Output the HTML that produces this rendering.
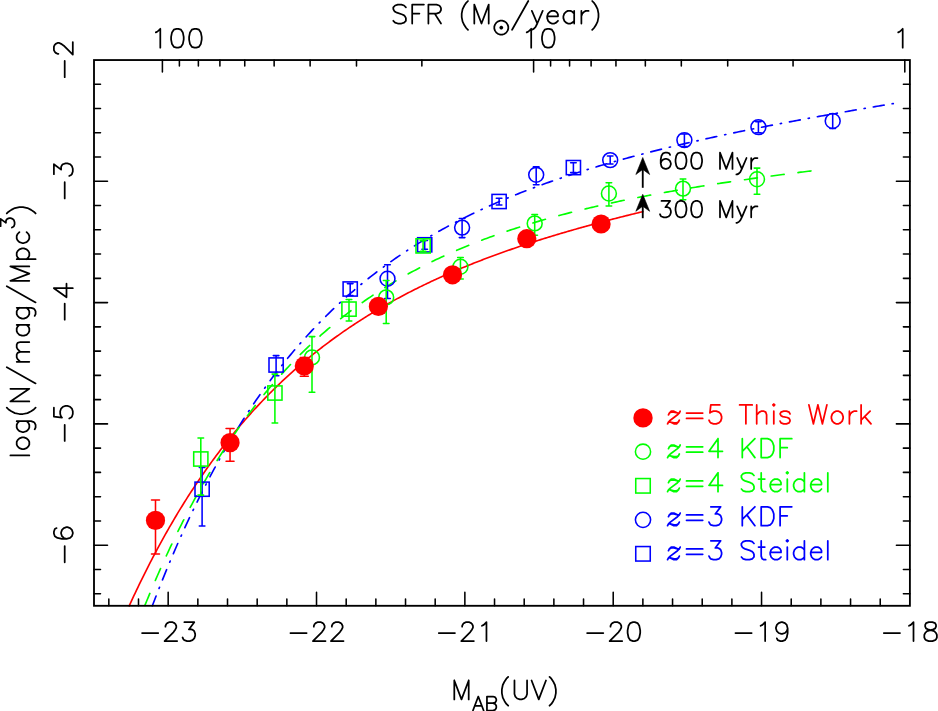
<!DOCTYPE html>
<html><head><meta charset="utf-8"><title>LF</title>
<style>html,body{margin:0;padding:0;background:#fff;font-family:"Liberation Sans",sans-serif;}svg{display:block}</style>
</head><body>
<svg width="938" height="711" viewBox="0 0 938 711" role="img" aria-label="Luminosity function of Lyman break galaxies">
<desc>SFR (M_sun/year) 100 10 1; log(N/mag/Mpc^3) -2 -3 -4 -5 -6; M_AB(UV) -23 -22 -21 -20 -19 -18; 600 Myr; 300 Myr; z=5 This Work; z=4 KDF; z=4 Steidel; z=3 KDF; z=3 Steidel</desc>
<rect x="0" y="0" width="938" height="711" fill="#fff"/>
<path d="M129.23 605.80 L129.68 604.83 L131.05 601.84 L132.42 598.89 L133.79 595.95 L135.17 593.04 L136.54 590.15 L137.91 587.28 L139.28 584.44 L140.65 581.62 L142.03 578.82 L143.40 576.04 L144.77 573.28 L146.14 570.55 L147.52 567.84 L148.89 565.14 L150.26 562.47 L151.63 559.82 L153.00 557.19 L154.38 554.58 L155.75 552.00 L157.12 549.43 L158.49 546.88 L159.87 544.35 L161.24 541.84 L162.61 539.35 L163.98 536.88 L165.35 534.43 L166.73 532.00 L168.10 529.58 L169.47 527.19 L170.84 524.81 L172.22 522.46 L173.59 520.12 L174.96 517.79 L176.33 515.49 L177.70 513.20 L179.08 510.94 L180.45 508.68 L181.82 506.45 L183.19 504.23 L184.56 502.03 L185.94 499.85 L187.31 497.68 L188.68 495.53 L190.05 493.40 L191.43 491.28 L192.80 489.18 L194.17 487.10 L195.54 485.03 L196.91 482.98 L198.29 480.94 L199.66 478.92 L201.03 476.91 L202.40 474.92 L203.78 472.94 L205.15 470.98 L206.52 469.03 L207.89 467.10 L209.26 465.18 L210.64 463.28 L212.01 461.39 L213.38 459.51 L214.75 457.65 L216.13 455.81 L217.50 453.97 L218.87 452.16 L220.24 450.35 L221.61 448.56 L222.99 446.78 L224.36 445.01 L225.73 443.26 L227.10 441.52 L228.48 439.80 L229.85 438.08 L231.22 436.38 L232.59 434.69 L233.96 433.02 L235.34 431.35 L236.71 429.70 L238.08 428.06 L239.45 426.44 L240.82 424.82 L242.20 423.22 L243.57 421.63 L244.94 420.05 L246.31 418.48 L247.69 416.93 L249.06 415.38 L250.43 413.85 L251.80 412.32 L253.17 410.81 L254.55 409.31 L255.92 407.82 L257.29 406.34 L258.66 404.88 L260.04 403.42 L261.41 401.97 L262.78 400.54 L264.15 399.11 L265.52 397.69 L266.90 396.29 L268.27 394.89 L269.64 393.51 L271.01 392.13 L272.39 390.77 L273.76 389.41 L275.13 388.06 L276.50 386.73 L277.87 385.40 L279.25 384.08 L280.62 382.77 L281.99 381.47 L283.36 380.18 L284.74 378.90 L286.11 377.63 L287.48 376.37 L288.85 375.11 L290.22 373.87 L291.60 372.63 L292.97 371.41 L294.34 370.19 L295.71 368.98 L297.08 367.77 L298.46 366.58 L299.83 365.39 L301.20 364.22 L302.57 363.05 L303.95 361.89 L305.32 360.73 L306.69 359.59 L308.06 358.45 L309.43 357.32 L310.81 356.20 L312.18 355.09 L313.55 353.98 L314.92 352.88 L316.30 351.79 L317.67 350.71 L319.04 349.63 L320.41 348.56 L321.78 347.50 L323.16 346.44 L324.53 345.40 L325.90 344.36 L327.27 343.32 L328.65 342.30 L330.02 341.28 L331.39 340.26 L332.76 339.26 L334.13 338.26 L335.51 337.26 L336.88 336.28 L338.25 335.30 L339.62 334.33 L341.00 333.36 L342.37 332.40 L343.74 331.44 L345.11 330.50 L346.48 329.56 L347.86 328.62 L349.23 327.69 L350.60 326.77 L351.97 325.85 L353.34 324.94 L354.72 324.03 L356.09 323.13 L357.46 322.24 L358.83 321.35 L360.21 320.47 L361.58 319.59 L362.95 318.72 L364.32 317.86 L365.69 317.00 L367.07 316.14 L368.44 315.29 L369.81 314.45 L371.18 313.61 L372.56 312.78 L373.93 311.95 L375.30 311.13 L376.67 310.31 L378.04 309.50 L379.42 308.69 L380.79 307.89 L382.16 307.09 L383.53 306.30 L384.91 305.51 L386.28 304.73 L387.65 303.95 L389.02 303.18 L390.39 302.41 L391.77 301.65 L393.14 300.89 L394.51 300.13 L395.88 299.38 L397.26 298.64 L398.63 297.90 L400.00 297.16 L401.37 296.43 L402.74 295.70 L404.12 294.98 L405.49 294.26 L406.86 293.55 L408.23 292.84 L409.60 292.13 L410.98 291.43 L412.35 290.73 L413.72 290.04 L415.09 289.35 L416.47 288.66 L417.84 287.98 L419.21 287.30 L420.58 286.63 L421.95 285.96 L423.33 285.29 L424.70 284.63 L426.07 283.97 L427.44 283.32 L428.82 282.67 L430.19 282.02 L431.56 281.37 L432.93 280.73 L434.30 280.10 L435.68 279.47 L437.05 278.84 L438.42 278.21 L439.79 277.59 L441.17 276.97 L442.54 276.35 L443.91 275.74 L445.28 275.13 L446.65 274.53 L448.03 273.93 L449.40 273.33 L450.77 272.73 L452.14 272.14 L453.52 271.55 L454.89 270.96 L456.26 270.38 L457.63 269.80 L459.00 269.23 L460.38 268.65 L461.75 268.08 L463.12 267.51 L464.49 266.95 L465.86 266.39 L467.24 265.83 L468.61 265.27 L469.98 264.72 L471.35 264.17 L472.73 263.63 L474.10 263.08 L475.47 262.54 L476.84 262.00 L478.21 261.47 L479.59 260.93 L480.96 260.40 L482.33 259.87 L483.70 259.35 L485.08 258.83 L486.45 258.31 L487.82 257.79 L489.19 257.27 L490.56 256.76 L491.94 256.25 L493.31 255.74 L494.68 255.24 L496.05 254.74 L497.43 254.24 L498.80 253.74 L500.17 253.25 L501.54 252.75 L502.91 252.26 L504.29 251.77 L505.66 251.29 L507.03 250.81 L508.40 250.32 L509.78 249.85 L511.15 249.37 L512.52 248.89 L513.89 248.42 L515.26 247.95 L516.64 247.48 L518.01 247.02 L519.38 246.55 L520.75 246.09 L522.12 245.63 L523.50 245.18 L524.87 244.72 L526.24 244.27 L527.61 243.82 L528.99 243.37 L530.36 242.92 L531.73 242.48 L533.10 242.03 L534.47 241.59 L535.85 241.15 L537.22 240.71 L538.59 240.28 L539.96 239.84 L541.34 239.41 L542.71 238.98 L544.08 238.55 L545.45 238.13 L546.82 237.70 L548.20 237.28 L549.57 236.86 L550.94 236.44 L552.31 236.02 L553.69 235.60 L555.06 235.19 L556.43 234.78 L557.80 234.37 L559.17 233.96 L560.55 233.55 L561.92 233.14 L563.29 232.74 L564.66 232.34 L566.04 231.94 L567.41 231.54 L568.78 231.14 L570.15 230.74 L571.52 230.35 L572.90 229.95 L574.27 229.56 L575.64 229.17 L577.01 228.78 L578.38 228.39 L579.76 228.01 L581.13 227.62 L582.50 227.24 L583.87 226.86 L585.25 226.48 L586.62 226.10 L587.99 225.72 L589.36 225.35 L590.73 224.97 L592.11 224.60 L593.48 224.23 L594.85 223.86 L596.22 223.49 L597.60 223.12 L598.97 222.75 L600.34 222.39 L601.71 222.02 L603.08 221.66 L604.46 221.30 L605.83 220.94 L607.20 220.58 L608.57 220.22 L609.95 219.86 L611.32 219.51 L612.69 219.15 L614.06 218.80 L615.43 218.45 L616.81 218.10 L618.18 217.75 L619.55 217.40 L620.92 217.05 L622.30 216.70 L623.67 216.36 L625.04 216.01 L626.41 215.67 L627.78 215.33 L629.16 214.99 L630.53 214.65 L631.90 214.31 L633.27 213.97 L634.65 213.63 L636.02 213.30 L637.39 212.96 L638.76 212.63 L640.13 212.30 L641.51 211.97 L642.88 211.63" fill="none" stroke="#ff0000" stroke-width="1.65" stroke-linecap="round" stroke-linejoin="round"/>
<path d="M152.33 605.80 L154.08 601.21 L156.08 596.01 L158.09 590.88 L160.09 585.80 L162.09 580.79 L164.09 575.83 L166.10 570.93 L168.10 566.09 L170.10 561.30 L172.10 556.57 L174.11 551.89 L176.11 547.27 L178.11 542.70 L180.11 538.19 L182.12 533.73 L184.12 529.31 L186.12 524.95 L188.13 520.64 L190.13 516.39 L192.13 512.17 L194.13 508.01 L196.14 503.90 L198.14 499.83 L200.14 495.81 L202.14 491.84 L204.15 487.91 L206.15 484.03 L208.15 480.19 L210.15 476.39 L212.16 472.64 L214.16 468.93 L216.16 465.27 L218.17 461.64 L220.17 458.06 L222.17 454.52 L224.17 451.02 L226.18 447.56 L228.18 444.13 L230.18 440.75 L232.18 437.40 L234.19 434.10 L236.19 430.83 L238.19 427.59 L240.19 424.40 L242.20 421.23 L244.20 418.11 L246.20 415.02 L248.21 411.96 L250.21 408.94 L252.21 405.96 L254.21 403.00 L256.22 400.08 L258.22 397.19 L260.22 394.34 L262.22 391.51 L264.23 388.72 L266.23 385.96 L268.23 383.23 L270.23 380.53 L272.24 377.85 L274.24 375.21 L276.24 372.60 L278.25 370.02 L280.25 367.46 L282.25 364.94 L284.25 362.44 L286.26 359.96 L288.26 357.52 L290.26 355.10 L292.26 352.71 L294.27 350.34 L296.27 348.00 L298.27 345.69 L300.27 343.40 L302.28 341.14 L304.28 338.90 L306.28 336.68 L308.29 334.49 L310.29 332.32 L312.29 330.18 L314.29 328.05 L316.30 325.96 L318.30 323.88 L320.30 321.82 L322.30 319.79 L324.31 317.78 L326.31 315.79 L328.31 313.82 L330.31 311.88 L332.32 309.95 L334.32 308.04 L336.32 306.15 L338.32 304.29 L340.33 302.44 L342.33 300.61 L344.33 298.80 L346.34 297.01 L348.34 295.24 L350.34 293.49 L352.34 291.76 L354.35 290.04 L356.35 288.34 L358.35 286.66 L360.35 284.99 L362.36 283.35 L364.36 281.72 L366.36 280.10 L368.36 278.51 L370.37 276.93 L372.37 275.36 L374.37 273.81 L376.38 272.28 L378.38 270.76 L380.38 269.26 L382.38 267.77 L384.39 266.30 L386.39 264.84 L388.39 263.40 L390.39 261.97 L392.40 260.55 L394.40 259.15 L396.40 257.77 L398.40 256.39 L400.41 255.03 L402.41 253.69 L404.41 252.35 L406.42 251.03 L408.42 249.73 L410.42 248.43 L412.42 247.15 L414.43 245.88 L416.43 244.62 L418.43 243.38 L420.43 242.14 L422.44 240.92 L424.44 239.71 L426.44 238.51 L428.44 237.32 L430.45 236.15 L432.45 234.98 L434.45 233.83 L436.46 232.68 L438.46 231.55 L440.46 230.43 L442.46 229.32 L444.47 228.22 L446.47 227.12 L448.47 226.04 L450.47 224.97 L452.48 223.91 L454.48 222.86 L456.48 221.81 L458.48 220.78 L460.49 219.76 L462.49 218.74 L464.49 217.74 L466.50 216.74 L468.50 215.75 L470.50 214.77 L472.50 213.80 L474.51 212.84 L476.51 211.88 L478.51 210.94 L480.51 210.00 L482.52 209.07 L484.52 208.15 L486.52 207.24 L488.52 206.33 L490.53 205.43 L492.53 204.54 L494.53 203.66 L496.54 202.79 L498.54 201.92 L500.54 201.06 L502.54 200.20 L504.55 199.36 L506.55 198.52 L508.55 197.69 L510.55 196.86 L512.56 196.04 L514.56 195.23 L516.56 194.42 L518.56 193.62 L520.57 192.83 L522.57 192.04 L524.57 191.26 L526.58 190.49 L528.58 189.72 L530.58 188.96 L532.58 188.20 L534.59 187.45 L536.59 186.71 L538.59 185.97 L540.59 185.24 L542.60 184.51 L544.60 183.79 L546.60 183.07 L548.60 182.36 L550.61 181.65 L552.61 180.95 L554.61 180.26 L556.62 179.57 L558.62 178.88 L560.62 178.20 L562.62 177.53 L564.63 176.86 L566.63 176.19 L568.63 175.53 L570.63 174.87 L572.64 174.22 L574.64 173.57 L576.64 172.93 L578.64 172.29 L580.65 171.66 L582.65 171.03 L584.65 170.41 L586.66 169.78 L588.66 169.17 L590.66 168.56 L592.66 167.95 L594.67 167.34 L596.67 166.74 L598.67 166.15 L600.67 165.55 L602.68 164.96 L604.68 164.38 L606.68 163.80 L608.68 163.22 L610.69 162.65 L612.69 162.08 L614.69 161.51 L616.70 160.95 L618.70 160.39 L620.70 159.83 L622.70 159.28 L624.71 158.73 L626.71 158.18 L628.71 157.64 L630.71 157.10 L632.72 156.56 L634.72 156.03 L636.72 155.50 L638.72 154.97 L640.73 154.45 L642.73 153.93 L644.73 153.41 L646.74 152.89 L648.74 152.38 L650.74 151.87 L652.74 151.37 L654.75 150.86 L656.75 150.36 L658.75 149.86 L660.75 149.37 L662.76 148.87 L664.76 148.38 L666.76 147.90 L668.76 147.41 L670.77 146.93 L672.77 146.45 L674.77 145.97 L676.78 145.49 L678.78 145.02 L680.78 144.55 L682.78 144.08 L684.79 143.62 L686.79 143.15 L688.79 142.69 L690.79 142.23 L692.80 141.77 L694.80 141.32 L696.80 140.87 L698.80 140.42 L700.81 139.97 L702.81 139.52 L704.81 139.08 L706.82 138.63 L708.82 138.19 L710.82 137.75 L712.82 137.32 L714.83 136.88 L716.83 136.45 L718.83 136.02 L720.83 135.59 L722.84 135.16 L724.84 134.74 L726.84 134.31 L728.84 133.89 L730.85 133.47 L732.85 133.05 L734.85 132.64 L736.86 132.22 L738.86 131.81 L740.86 131.40 L742.86 130.99 L744.87 130.58 L746.87 130.17 L748.87 129.76 L750.87 129.36 L752.88 128.96 L754.88 128.56 L756.88 128.16 L758.88 127.76 L760.89 127.36 L762.89 126.97 L764.89 126.57 L766.89 126.18 L768.90 125.79 L770.90 125.40 L772.90 125.01 L774.91 124.63 L776.91 124.24 L778.91 123.86 L780.91 123.47 L782.92 123.09 L784.92 122.71 L786.92 122.33 L788.92 121.95 L790.93 121.58 L792.93 121.20 L794.93 120.82 L796.93 120.45 L798.94 120.08 L800.94 119.71 L802.94 119.34 L804.95 118.97 L806.95 118.60 L808.95 118.23 L810.95 117.87 L812.96 117.50 L814.96 117.14 L816.96 116.78 L818.96 116.41 L820.97 116.05 L822.97 115.69 L824.97 115.33 L826.97 114.98 L828.98 114.62 L830.98 114.26 L832.98 113.91 L834.99 113.55 L836.99 113.20 L838.99 112.85 L840.99 112.50 L843.00 112.15 L845.00 111.80 L847.00 111.45 L849.00 111.10 L851.01 110.75 L853.01 110.41 L855.01 110.06 L857.01 109.72 L859.02 109.37 L861.02 109.03 L863.02 108.69 L865.03 108.34 L867.03 108.00 L869.03 107.66 L871.03 107.32 L873.04 106.98 L875.04 106.65 L877.04 106.31 L879.04 105.97 L881.05 105.63 L883.05 105.30 L885.05 104.96 L887.05 104.63 L889.06 104.30 L891.06 103.96 L893.06 103.63 L895.07 103.30" fill="none" stroke="#0000ff" stroke-width="1.65" stroke-linecap="round" stroke-linejoin="round" stroke-dasharray="11.000 8.089 1.200 8.089" stroke-dashoffset="0.50"/>
<path d="M144.74 605.80 L144.88 605.46 L146.70 600.99 L148.52 596.58 L150.33 592.21 L152.15 587.89 L153.97 583.62 L155.79 579.39 L157.60 575.21 L159.42 571.08 L161.24 566.98 L163.05 562.94 L164.87 558.93 L166.69 554.97 L168.51 551.06 L170.32 547.18 L172.14 543.35 L173.96 539.56 L175.78 535.80 L177.59 532.09 L179.41 528.42 L181.23 524.79 L183.04 521.20 L184.86 517.64 L186.68 514.13 L188.50 510.65 L190.31 507.21 L192.13 503.80 L193.95 500.44 L195.76 497.10 L197.58 493.81 L199.40 490.55 L201.22 487.32 L203.03 484.13 L204.85 480.97 L206.67 477.85 L208.49 474.76 L210.30 471.70 L212.12 468.68 L213.94 465.68 L215.75 462.72 L217.57 459.79 L219.39 456.90 L221.21 454.03 L223.02 451.19 L224.84 448.39 L226.66 445.61 L228.48 442.86 L230.29 440.14 L232.11 437.45 L233.93 434.79 L235.74 432.16 L237.56 429.55 L239.38 426.97 L241.20 424.42 L243.01 421.90 L244.83 419.40 L246.65 416.93 L248.46 414.49 L250.28 412.07 L252.10 409.67 L253.92 407.30 L255.73 404.96 L257.55 402.64 L259.37 400.35 L261.19 398.07 L263.00 395.83 L264.82 393.60 L266.64 391.40 L268.45 389.23 L270.27 387.07 L272.09 384.94 L273.91 382.83 L275.72 380.74 L277.54 378.67 L279.36 376.63 L281.17 374.60 L282.99 372.60 L284.81 370.62 L286.63 368.66 L288.44 366.71 L290.26 364.79 L292.08 362.89 L293.90 361.01 L295.71 359.15 L297.53 357.30 L299.35 355.48 L301.16 353.67 L302.98 351.89 L304.80 350.12 L306.62 348.37 L308.43 346.63 L310.25 344.92 L312.07 343.22 L313.89 341.54 L315.70 339.88 L317.52 338.23 L319.34 336.60 L321.15 334.99 L322.97 333.39 L324.79 331.81 L326.61 330.25 L328.42 328.70 L330.24 327.16 L332.06 325.65 L333.87 324.14 L335.69 322.66 L337.51 321.18 L339.33 319.73 L341.14 318.28 L342.96 316.86 L344.78 315.44 L346.60 314.04 L348.41 312.66 L350.23 311.28 L352.05 309.92 L353.86 308.58 L355.68 307.25 L357.50 305.93 L359.32 304.62 L361.13 303.33 L362.95 302.05 L364.77 300.78 L366.58 299.53 L368.40 298.29 L370.22 297.06 L372.04 295.84 L373.85 294.63 L375.67 293.44 L377.49 292.26 L379.31 291.09 L381.12 289.93 L382.94 288.78 L384.76 287.64 L386.57 286.51 L388.39 285.40 L390.21 284.29 L392.03 283.20 L393.84 282.12 L395.66 281.04 L397.48 279.98 L399.29 278.93 L401.11 277.89 L402.93 276.85 L404.75 275.83 L406.56 274.82 L408.38 273.82 L410.20 272.82 L412.02 271.84 L413.83 270.86 L415.65 269.90 L417.47 268.94 L419.28 267.99 L421.10 267.05 L422.92 266.13 L424.74 265.20 L426.55 264.29 L428.37 263.39 L430.19 262.49 L432.01 261.60 L433.82 260.72 L435.64 259.85 L437.46 258.99 L439.27 258.14 L441.09 257.29 L442.91 256.45 L444.73 255.62 L446.54 254.79 L448.36 253.98 L450.18 253.17 L451.99 252.37 L453.81 251.57 L455.63 250.78 L457.45 250.00 L459.26 249.23 L461.08 248.46 L462.90 247.70 L464.72 246.95 L466.53 246.21 L468.35 245.47 L470.17 244.73 L471.98 244.01 L473.80 243.29 L475.62 242.57 L477.44 241.87 L479.25 241.17 L481.07 240.47 L482.89 239.78 L484.70 239.10 L486.52 238.42 L488.34 237.75 L490.16 237.09 L491.97 236.43 L493.79 235.77 L495.61 235.12 L497.43 234.48 L499.24 233.84 L501.06 233.21 L502.88 232.59 L504.69 231.96 L506.51 231.35 L508.33 230.74 L510.15 230.13 L511.96 229.53 L513.78 228.94 L515.60 228.35 L517.42 227.76 L519.23 227.18 L521.05 226.60 L522.87 226.03 L524.68 225.46 L526.50 224.90 L528.32 224.34 L530.14 223.79 L531.95 223.24 L533.77 222.70 L535.59 222.16 L537.40 221.62 L539.22 221.09 L541.04 220.57 L542.86 220.04 L544.67 219.52 L546.49 219.01 L548.31 218.50 L550.13 217.99 L551.94 217.49 L553.76 216.99 L555.58 216.50 L557.39 216.01 L559.21 215.52 L561.03 215.04 L562.85 214.56 L564.66 214.08 L566.48 213.61 L568.30 213.14 L570.11 212.67 L571.93 212.21 L573.75 211.75 L575.57 211.30 L577.38 210.85 L579.20 210.40 L581.02 209.95 L582.84 209.51 L584.65 209.07 L586.47 208.64 L588.29 208.20 L590.10 207.77 L591.92 207.35 L593.74 206.93 L595.56 206.51 L597.37 206.09 L599.19 205.67 L601.01 205.26 L602.82 204.86 L604.64 204.45 L606.46 204.05 L608.28 203.65 L610.09 203.25 L611.91 202.86 L613.73 202.46 L615.55 202.08 L617.36 201.69 L619.18 201.31 L621.00 200.92 L622.81 200.55 L624.63 200.17 L626.45 199.80 L628.27 199.42 L630.08 199.06 L631.90 198.69 L633.72 198.33 L635.54 197.96 L637.35 197.60 L639.17 197.25 L640.99 196.89 L642.80 196.54 L644.62 196.19 L646.44 195.84 L648.26 195.50 L650.07 195.15 L651.89 194.81 L653.71 194.47 L655.52 194.13 L657.34 193.80 L659.16 193.46 L660.98 193.13 L662.79 192.80 L664.61 192.48 L666.43 192.15 L668.25 191.83 L670.06 191.51 L671.88 191.19 L673.70 190.87 L675.51 190.55 L677.33 190.24 L679.15 189.92 L680.97 189.61 L682.78 189.31 L684.60 189.00 L686.42 188.69 L688.23 188.39 L690.05 188.09 L691.87 187.79 L693.69 187.49 L695.50 187.19 L697.32 186.89 L699.14 186.60 L700.96 186.31 L702.77 186.02 L704.59 185.73 L706.41 185.44 L708.22 185.15 L710.04 184.87 L711.86 184.58 L713.68 184.30 L715.49 184.02 L717.31 183.74 L719.13 183.47 L720.94 183.19 L722.76 182.91 L724.58 182.64 L726.40 182.37 L728.21 182.10 L730.03 181.83 L731.85 181.56 L733.67 181.29 L735.48 181.03 L737.30 180.76 L739.12 180.50 L740.93 180.24 L742.75 179.97 L744.57 179.71 L746.39 179.46 L748.20 179.20 L750.02 178.94 L751.84 178.69 L753.66 178.43 L755.47 178.18 L757.29 177.93 L759.11 177.68 L760.92 177.43 L762.74 177.18 L764.56 176.93 L766.38 176.69 L768.19 176.44 L770.01 176.20 L771.83 175.95 L773.64 175.71 L775.46 175.47 L777.28 175.23 L779.10 174.99 L780.91 174.75 L782.73 174.51 L784.55 174.28 L786.37 174.04 L788.18 173.81 L790.00 173.57 L791.82 173.34 L793.63 173.11 L795.45 172.88 L797.27 172.65 L799.09 172.42 L800.90 172.19 L802.72 171.96 L804.54 171.73 L806.35 171.51 L808.17 171.28 L809.99 171.06 L811.81 170.83 L813.62 170.61 L815.44 170.39 L817.26 170.17 L819.08 169.94 L820.89 169.72" fill="none" stroke="#00ff00" stroke-width="1.65" stroke-linecap="round" stroke-linejoin="round" stroke-dasharray="13.000 14.013" stroke-dashoffset="-0.40"/>
<rect x="195.00" y="482.10" width="14.20" height="14.20" fill="none" stroke="#0000ff" stroke-width="1.55" stroke-linejoin="miter"/>
<path d="M202.10 467.50 L202.10 526.00 M199.30 467.50 L204.90 467.50 M199.30 526.00 L204.90 526.00" fill="none" stroke="#0000ff" stroke-width="1.55" stroke-linecap="round"/>
<rect x="269.00" y="357.90" width="14.20" height="14.20" fill="none" stroke="#0000ff" stroke-width="1.55" stroke-linejoin="miter"/>
<path d="M276.10 355.60 L276.10 375.70 M273.30 355.60 L278.90 355.60 M273.30 375.70 L278.90 375.70" fill="none" stroke="#0000ff" stroke-width="1.55" stroke-linecap="round"/>
<rect x="343.10" y="281.90" width="14.20" height="14.20" fill="none" stroke="#0000ff" stroke-width="1.55" stroke-linejoin="miter"/>
<path d="M350.20 283.60 L350.20 295.40 M347.40 283.60 L353.00 283.60 M347.40 295.40 L353.00 295.40" fill="none" stroke="#0000ff" stroke-width="1.55" stroke-linecap="round"/>
<rect x="417.60" y="237.70" width="14.20" height="14.20" fill="none" stroke="#0000ff" stroke-width="1.55" stroke-linejoin="miter"/>
<path d="M424.70 240.40 L424.70 249.20 M421.90 240.40 L427.50 240.40 M421.90 249.20 L427.50 249.20" fill="none" stroke="#0000ff" stroke-width="1.55" stroke-linecap="round"/>
<rect x="492.00" y="194.40" width="14.20" height="14.20" fill="none" stroke="#0000ff" stroke-width="1.55" stroke-linejoin="miter"/>
<path d="M499.10 198.30 L499.10 205.00 M496.30 198.30 L501.90 198.30 M496.30 205.00 L501.90 205.00" fill="none" stroke="#0000ff" stroke-width="1.55" stroke-linecap="round"/>
<rect x="566.30" y="160.50" width="14.20" height="14.20" fill="none" stroke="#0000ff" stroke-width="1.55" stroke-linejoin="miter"/>
<path d="M573.40 162.80 L573.40 172.60 M570.60 162.80 L576.20 162.80 M570.60 172.60 L576.20 172.60" fill="none" stroke="#0000ff" stroke-width="1.55" stroke-linecap="round"/>
<circle cx="387.50" cy="278.80" r="7.45" fill="none" stroke="#0000ff" stroke-width="1.55"/>
<path d="M387.50 264.80 L387.50 298.40 M384.70 264.80 L390.30 264.80 M384.70 298.40 L390.30 298.40" fill="none" stroke="#0000ff" stroke-width="1.55" stroke-linecap="round"/>
<circle cx="462.10" cy="227.60" r="7.45" fill="none" stroke="#0000ff" stroke-width="1.55"/>
<path d="M462.10 218.40 L462.10 237.60 M459.30 218.40 L464.90 218.40 M459.30 237.60 L464.90 237.60" fill="none" stroke="#0000ff" stroke-width="1.55" stroke-linecap="round"/>
<circle cx="536.20" cy="174.80" r="7.45" fill="none" stroke="#0000ff" stroke-width="1.55"/>
<path d="M536.20 166.80 L536.20 184.70 M533.40 166.80 L539.00 166.80 M533.40 184.70 L539.00 184.70" fill="none" stroke="#0000ff" stroke-width="1.55" stroke-linecap="round"/>
<circle cx="610.20" cy="160.10" r="7.45" fill="none" stroke="#0000ff" stroke-width="1.55"/>
<path d="M610.20 156.00 L610.20 164.00 M607.40 156.00 L613.00 156.00 M607.40 164.00 L613.00 164.00" fill="none" stroke="#0000ff" stroke-width="1.55" stroke-linecap="round"/>
<circle cx="684.40" cy="140.10" r="7.45" fill="none" stroke="#0000ff" stroke-width="1.55"/>
<path d="M684.40 134.00 L684.40 146.50 M681.60 134.00 L687.20 134.00 M681.60 146.50 L687.20 146.50" fill="none" stroke="#0000ff" stroke-width="1.55" stroke-linecap="round"/>
<circle cx="758.40" cy="127.10" r="7.45" fill="none" stroke="#0000ff" stroke-width="1.55"/>
<path d="M758.40 121.60 L758.40 132.70 M755.60 121.60 L761.20 121.60 M755.60 132.70 L761.20 132.70" fill="none" stroke="#0000ff" stroke-width="1.55" stroke-linecap="round"/>
<circle cx="832.70" cy="121.00" r="7.45" fill="none" stroke="#0000ff" stroke-width="1.55"/>
<path d="M832.70 113.80 L832.70 128.50 M829.90 113.80 L835.50 113.80 M829.90 128.50 L835.50 128.50" fill="none" stroke="#0000ff" stroke-width="1.55" stroke-linecap="round"/>
<rect x="193.70" y="451.90" width="14.20" height="14.20" fill="none" stroke="#00ff00" stroke-width="1.55" stroke-linejoin="miter"/>
<path d="M200.80 437.90 L200.80 495.10 M198.00 437.90 L203.60 437.90 M198.00 495.10 L203.60 495.10" fill="none" stroke="#00ff00" stroke-width="1.55" stroke-linecap="round"/>
<rect x="267.80" y="385.90" width="14.20" height="14.20" fill="none" stroke="#00ff00" stroke-width="1.55" stroke-linejoin="miter"/>
<path d="M274.90 374.10 L274.90 423.00 M272.10 374.10 L277.70 374.10 M272.10 423.00 L277.70 423.00" fill="none" stroke="#00ff00" stroke-width="1.55" stroke-linecap="round"/>
<rect x="341.90" y="302.00" width="14.20" height="14.20" fill="none" stroke="#00ff00" stroke-width="1.55" stroke-linejoin="miter"/>
<path d="M349.00 299.40 L349.00 321.00 M346.20 299.40 L351.80 299.40 M346.20 321.00 L351.80 321.00" fill="none" stroke="#00ff00" stroke-width="1.55" stroke-linecap="round"/>
<rect x="416.00" y="238.80" width="14.20" height="14.20" fill="none" stroke="#00ff00" stroke-width="1.55" stroke-linejoin="miter"/>
<path d="M423.10 240.60 L423.10 251.20 M420.30 240.60 L425.90 240.60 M420.30 251.20 L425.90 251.20" fill="none" stroke="#00ff00" stroke-width="1.55" stroke-linecap="round"/>
<circle cx="312.00" cy="357.40" r="7.45" fill="none" stroke="#00ff00" stroke-width="1.55"/>
<path d="M312.00 336.60 L312.00 392.20 M309.20 336.60 L314.80 336.60 M309.20 392.20 L314.80 392.20" fill="none" stroke="#00ff00" stroke-width="1.55" stroke-linecap="round"/>
<circle cx="386.20" cy="297.40" r="7.45" fill="none" stroke="#00ff00" stroke-width="1.55"/>
<path d="M386.20 280.40 L386.20 323.50 M383.40 280.40 L389.00 280.40 M383.40 323.50 L389.00 323.50" fill="none" stroke="#00ff00" stroke-width="1.55" stroke-linecap="round"/>
<circle cx="460.45" cy="266.80" r="7.45" fill="none" stroke="#00ff00" stroke-width="1.55"/>
<path d="M460.45 257.50 L460.45 279.00 M457.65 257.50 L463.25 257.50 M457.65 279.00 L463.25 279.00" fill="none" stroke="#00ff00" stroke-width="1.55" stroke-linecap="round"/>
<circle cx="534.70" cy="223.40" r="7.45" fill="none" stroke="#00ff00" stroke-width="1.55"/>
<path d="M534.70 214.40 L534.70 235.30 M531.90 214.40 L537.50 214.40 M531.90 235.30 L537.50 235.30" fill="none" stroke="#00ff00" stroke-width="1.55" stroke-linecap="round"/>
<circle cx="608.90" cy="193.50" r="7.45" fill="none" stroke="#00ff00" stroke-width="1.55"/>
<path d="M608.90 182.80 L608.90 206.00 M606.10 182.80 L611.70 182.80 M606.10 206.00 L611.70 206.00" fill="none" stroke="#00ff00" stroke-width="1.55" stroke-linecap="round"/>
<circle cx="683.00" cy="188.60" r="7.45" fill="none" stroke="#00ff00" stroke-width="1.55"/>
<path d="M683.00 178.90 L683.00 199.80 M680.20 178.90 L685.80 178.90 M680.20 199.80 L685.80 199.80" fill="none" stroke="#00ff00" stroke-width="1.55" stroke-linecap="round"/>
<circle cx="757.00" cy="179.20" r="7.45" fill="none" stroke="#00ff00" stroke-width="1.55"/>
<path d="M757.00 168.10 L757.00 194.20 M754.20 168.10 L759.80 168.10 M754.20 194.20 L759.80 194.20" fill="none" stroke="#00ff00" stroke-width="1.55" stroke-linecap="round"/>
<path d="M155.50 500.00 L155.50 554.00 M151.50 500.00 L159.50 500.00 M151.50 554.00 L159.50 554.00" fill="none" stroke="#ff0000" stroke-width="1.55" stroke-linecap="round"/>
<circle cx="155.50" cy="520.40" r="9.60" fill="#ff0000"/>
<path d="M230.05 428.50 L230.05 461.15 M226.05 428.50 L234.05 428.50 M226.05 461.15 L234.05 461.15" fill="none" stroke="#ff0000" stroke-width="1.55" stroke-linecap="round"/>
<circle cx="230.05" cy="442.65" r="9.60" fill="#ff0000"/>
<path d="M304.30 357.50 L304.30 376.30 M300.30 357.50 L308.30 357.50 M300.30 376.30 L308.30 376.30" fill="none" stroke="#ff0000" stroke-width="1.55" stroke-linecap="round"/>
<circle cx="304.30" cy="366.00" r="9.60" fill="#ff0000"/>
<circle cx="378.40" cy="306.40" r="9.60" fill="#ff0000"/>
<circle cx="452.50" cy="274.80" r="9.60" fill="#ff0000"/>
<circle cx="526.80" cy="238.70" r="9.60" fill="#ff0000"/>
<circle cx="601.10" cy="224.00" r="9.60" fill="#ff0000"/>
<path d="M642.75 218.20 L642.75 200.30" stroke="#000" stroke-width="1.85" fill="none"/><path d="M642.75 194.30 L635.85 211.30 L642.75 206.20 L649.65 211.30 Z" fill="#000" stroke="#000" stroke-width="0.6" stroke-linejoin="miter"/>
<path d="M642.75 187.80 L642.75 163.50" stroke="#000" stroke-width="1.85" fill="none"/><path d="M642.75 157.50 L635.85 174.50 L642.75 169.40 L649.65 174.50 Z" fill="#000" stroke="#000" stroke-width="0.6" stroke-linejoin="miter"/>
<path transform="translate(657.60 161.90)" d="M12.48 -7.02 L11.70 -8.58 L9.36 -9.36 L7.80 -9.36 L5.46 -8.58 L3.90 -6.24 L3.12 -2.34 L3.12 1.56 L3.90 4.68 L5.46 6.24 L7.80 7.02 L8.58 7.02 L10.92 6.24 L12.48 4.68 L13.26 2.34 L13.26 1.56 L12.48 -0.78 L10.92 -2.34 L8.58 -3.12 L7.80 -3.12 L5.46 -2.34 L3.90 -0.78 L3.12 1.56 M22.62 -9.36 L20.28 -8.58 L18.72 -6.24 L17.94 -2.34 L17.94 0.00 L18.72 3.90 L20.28 6.24 L22.62 7.02 L24.18 7.02 L26.52 6.24 L28.08 3.90 L28.86 0.00 L28.86 -2.34 L28.08 -6.24 L26.52 -8.58 L24.18 -9.36 L22.62 -9.36 M38.22 -9.36 L35.88 -8.58 L34.32 -6.24 L33.54 -2.34 L33.54 0.00 L34.32 3.90 L35.88 6.24 L38.22 7.02 L39.78 7.02 L42.12 6.24 L43.68 3.90 L44.46 0.00 L44.46 -2.34 L43.68 -6.24 L42.12 -8.58 L39.78 -9.36 L38.22 -9.36 M62.40 -9.36 L62.40 7.02 M62.40 -9.36 L68.64 7.02 M74.88 -9.36 L68.64 7.02 M74.88 -9.36 L74.88 7.02 M79.56 -3.90 L84.24 7.02 M88.92 -3.90 L84.24 7.02 L82.68 10.14 L81.12 11.70 L79.56 12.48 L78.78 12.48 M93.60 -3.90 L93.60 7.02 M93.60 0.78 L94.38 -1.56 L95.94 -3.12 L97.50 -3.90 L99.84 -3.90" fill="none" stroke="#000" stroke-width="1.75" stroke-linecap="round" stroke-linejoin="round"/>
<path transform="translate(657.60 210.30)" d="M3.90 -9.36 L12.48 -9.36 L7.80 -3.12 L10.14 -3.12 L11.70 -2.34 L12.48 -1.56 L13.26 0.78 L13.26 2.34 L12.48 4.68 L10.92 6.24 L8.58 7.02 L6.24 7.02 L3.90 6.24 L3.12 5.46 L2.34 3.90 M22.62 -9.36 L20.28 -8.58 L18.72 -6.24 L17.94 -2.34 L17.94 0.00 L18.72 3.90 L20.28 6.24 L22.62 7.02 L24.18 7.02 L26.52 6.24 L28.08 3.90 L28.86 0.00 L28.86 -2.34 L28.08 -6.24 L26.52 -8.58 L24.18 -9.36 L22.62 -9.36 M38.22 -9.36 L35.88 -8.58 L34.32 -6.24 L33.54 -2.34 L33.54 0.00 L34.32 3.90 L35.88 6.24 L38.22 7.02 L39.78 7.02 L42.12 6.24 L43.68 3.90 L44.46 0.00 L44.46 -2.34 L43.68 -6.24 L42.12 -8.58 L39.78 -9.36 L38.22 -9.36 M62.40 -9.36 L62.40 7.02 M62.40 -9.36 L68.64 7.02 M74.88 -9.36 L68.64 7.02 M74.88 -9.36 L74.88 7.02 M79.56 -3.90 L84.24 7.02 M88.92 -3.90 L84.24 7.02 L82.68 10.14 L81.12 11.70 L79.56 12.48 L78.78 12.48 M93.60 -3.90 L93.60 7.02 M93.60 0.78 L94.38 -1.56 L95.94 -3.12 L97.50 -3.90 L99.84 -3.90" fill="none" stroke="#000" stroke-width="1.75" stroke-linecap="round" stroke-linejoin="round"/>
<rect x="94.00" y="60.05" width="815.90" height="545.75" fill="none" stroke="#000" stroke-width="1.85"/>
<path d="M108.83 605.80 L108.83 599.00 M138.50 605.80 L138.50 599.00 M168.17 605.80 L168.17 592.30 M197.84 605.80 L197.84 599.00 M227.51 605.80 L227.51 599.00 M257.18 605.80 L257.18 599.00 M286.85 605.80 L286.85 599.00 M316.52 605.80 L316.52 592.30 M346.19 605.80 L346.19 599.00 M375.86 605.80 L375.86 599.00 M405.53 605.80 L405.53 599.00 M435.19 605.80 L435.19 599.00 M464.86 605.80 L464.86 592.30 M494.53 605.80 L494.53 599.00 M524.20 605.80 L524.20 599.00 M553.87 605.80 L553.87 599.00 M583.54 605.80 L583.54 599.00 M613.21 605.80 L613.21 592.30 M642.88 605.80 L642.88 599.00 M672.55 605.80 L672.55 599.00 M702.22 605.80 L702.22 599.00 M731.89 605.80 L731.89 599.00 M761.55 605.80 L761.55 592.30 M791.22 605.80 L791.22 599.00 M820.89 605.80 L820.89 599.00 M850.56 605.80 L850.56 599.00 M880.23 605.80 L880.23 599.00 M94.00 84.31 L100.50 84.31 M909.90 84.31 L903.40 84.31 M94.00 108.56 L100.50 108.56 M909.90 108.56 L903.40 108.56 M94.00 132.82 L100.50 132.82 M909.90 132.82 L903.40 132.82 M94.00 157.07 L100.50 157.07 M909.90 157.07 L903.40 157.07 M94.00 181.33 L107.50 181.33 M909.90 181.33 L896.40 181.33 M94.00 205.58 L100.50 205.58 M909.90 205.58 L903.40 205.58 M94.00 229.84 L100.50 229.84 M909.90 229.84 L903.40 229.84 M94.00 254.09 L100.50 254.09 M909.90 254.09 L903.40 254.09 M94.00 278.35 L100.50 278.35 M909.90 278.35 L903.40 278.35 M94.00 302.61 L107.50 302.61 M909.90 302.61 L896.40 302.61 M94.00 326.86 L100.50 326.86 M909.90 326.86 L903.40 326.86 M94.00 351.12 L100.50 351.12 M909.90 351.12 L903.40 351.12 M94.00 375.37 L100.50 375.37 M909.90 375.37 L903.40 375.37 M94.00 399.63 L100.50 399.63 M909.90 399.63 L903.40 399.63 M94.00 423.88 L107.50 423.88 M909.90 423.88 L896.40 423.88 M94.00 448.14 L100.50 448.14 M909.90 448.14 L903.40 448.14 M94.00 472.39 L100.50 472.39 M909.90 472.39 L903.40 472.39 M94.00 496.65 L100.50 496.65 M909.90 496.65 L903.40 496.65 M94.00 520.91 L100.50 520.91 M909.90 520.91 L903.40 520.91 M94.00 545.16 L107.50 545.16 M909.90 545.16 L896.40 545.16 M94.00 569.42 L100.50 569.42 M909.90 569.42 L903.40 569.42 M94.00 593.67 L100.50 593.67 M909.90 593.67 L903.40 593.67 M162.40 60.05 L162.40 72.05 M533.60 60.05 L533.60 72.05 M904.80 60.05 L904.80 72.05 M421.86 60.05 L421.86 66.05 M356.49 60.05 L356.49 66.05 M310.12 60.05 L310.12 66.05 M274.14 60.05 L274.14 66.05 M244.75 60.05 L244.75 66.05 M219.90 60.05 L219.90 66.05 M198.37 60.05 L198.37 66.05 M179.39 60.05 L179.39 66.05 M793.06 60.05 L793.06 66.05 M727.69 60.05 L727.69 66.05 M681.32 60.05 L681.32 66.05 M645.34 60.05 L645.34 66.05 M615.95 60.05 L615.95 66.05 M591.10 60.05 L591.10 66.05 M569.57 60.05 L569.57 66.05 M550.59 60.05 L550.59 66.05" stroke="#000" stroke-width="1.55" fill="none" stroke-linecap="round"/>
<path transform="translate(168.17 633.00)" d="M-26.10 0.00 L-9.90 0.00 M-2.70 -6.30 L-2.70 -7.20 L-1.80 -9.00 L-0.90 -9.90 L0.90 -10.80 L4.50 -10.80 L6.30 -9.90 L7.20 -9.00 L8.10 -7.20 L8.10 -5.40 L7.20 -3.60 L5.40 -0.90 L-3.60 8.10 L9.00 8.10 M16.20 -10.80 L26.10 -10.80 L20.70 -3.60 L23.40 -3.60 L25.20 -2.70 L26.10 -1.80 L27.00 0.90 L27.00 2.70 L26.10 5.40 L24.30 7.20 L21.60 8.10 L18.90 8.10 L16.20 7.20 L15.30 6.30 L14.40 4.50" fill="none" stroke="#000" stroke-width="1.75" stroke-linecap="round" stroke-linejoin="round"/>
<path transform="translate(316.52 633.00)" d="M-26.10 0.00 L-9.90 0.00 M-2.70 -6.30 L-2.70 -7.20 L-1.80 -9.00 L-0.90 -9.90 L0.90 -10.80 L4.50 -10.80 L6.30 -9.90 L7.20 -9.00 L8.10 -7.20 L8.10 -5.40 L7.20 -3.60 L5.40 -0.90 L-3.60 8.10 L9.00 8.10 M15.30 -6.30 L15.30 -7.20 L16.20 -9.00 L17.10 -9.90 L18.90 -10.80 L22.50 -10.80 L24.30 -9.90 L25.20 -9.00 L26.10 -7.20 L26.10 -5.40 L25.20 -3.60 L23.40 -0.90 L14.40 8.10 L27.00 8.10" fill="none" stroke="#000" stroke-width="1.75" stroke-linecap="round" stroke-linejoin="round"/>
<path transform="translate(464.86 633.00)" d="M-26.10 0.00 L-9.90 0.00 M-2.70 -6.30 L-2.70 -7.20 L-1.80 -9.00 L-0.90 -9.90 L0.90 -10.80 L4.50 -10.80 L6.30 -9.90 L7.20 -9.00 L8.10 -7.20 L8.10 -5.40 L7.20 -3.60 L5.40 -0.90 L-3.60 8.10 L9.00 8.10 M17.10 -7.20 L18.90 -8.10 L21.60 -10.80 L21.60 8.10" fill="none" stroke="#000" stroke-width="1.75" stroke-linecap="round" stroke-linejoin="round"/>
<path transform="translate(613.21 633.00)" d="M-26.10 0.00 L-9.90 0.00 M-2.70 -6.30 L-2.70 -7.20 L-1.80 -9.00 L-0.90 -9.90 L0.90 -10.80 L4.50 -10.80 L6.30 -9.90 L7.20 -9.00 L8.10 -7.20 L8.10 -5.40 L7.20 -3.60 L5.40 -0.90 L-3.60 8.10 L9.00 8.10 M19.80 -10.80 L17.10 -9.90 L15.30 -7.20 L14.40 -2.70 L14.40 0.00 L15.30 4.50 L17.10 7.20 L19.80 8.10 L21.60 8.10 L24.30 7.20 L26.10 4.50 L27.00 0.00 L27.00 -2.70 L26.10 -7.20 L24.30 -9.90 L21.60 -10.80 L19.80 -10.80" fill="none" stroke="#000" stroke-width="1.75" stroke-linecap="round" stroke-linejoin="round"/>
<path transform="translate(761.55 633.00)" d="M-26.10 0.00 L-9.90 0.00 M-0.90 -7.20 L0.90 -8.10 L3.60 -10.80 L3.60 8.10 M26.10 -4.50 L25.20 -1.80 L23.40 0.00 L20.70 0.90 L19.80 0.90 L17.10 0.00 L15.30 -1.80 L14.40 -4.50 L14.40 -5.40 L15.30 -8.10 L17.10 -9.90 L19.80 -10.80 L20.70 -10.80 L23.40 -9.90 L25.20 -8.10 L26.10 -4.50 L26.10 0.00 L25.20 4.50 L23.40 7.20 L20.70 8.10 L18.90 8.10 L16.20 7.20 L15.30 5.40" fill="none" stroke="#000" stroke-width="1.75" stroke-linecap="round" stroke-linejoin="round"/>
<path transform="translate(909.90 633.00)" d="M-26.10 0.00 L-9.90 0.00 M-0.90 -7.20 L0.90 -8.10 L3.60 -10.80 L3.60 8.10 M18.90 -10.80 L16.20 -9.90 L15.30 -8.10 L15.30 -6.30 L16.20 -4.50 L18.00 -3.60 L21.60 -2.70 L24.30 -1.80 L26.10 0.00 L27.00 1.80 L27.00 4.50 L26.10 6.30 L25.20 7.20 L22.50 8.10 L18.90 8.10 L16.20 7.20 L15.30 6.30 L14.40 4.50 L14.40 1.80 L15.30 0.00 L17.10 -1.80 L19.80 -2.70 L23.40 -3.60 L25.20 -4.50 L26.10 -6.30 L26.10 -8.10 L25.20 -9.90 L22.50 -10.80 L18.90 -10.80" fill="none" stroke="#000" stroke-width="1.75" stroke-linecap="round" stroke-linejoin="round"/>
<path transform="translate(64.70 545.16) rotate(-90.00)" d="M-17.10 0.00 L-0.90 0.00 M17.10 -8.10 L16.20 -9.90 L13.50 -10.80 L11.70 -10.80 L9.00 -9.90 L7.20 -7.20 L6.30 -2.70 L6.30 1.80 L7.20 5.40 L9.00 7.20 L11.70 8.10 L12.60 8.10 L15.30 7.20 L17.10 5.40 L18.00 2.70 L18.00 1.80 L17.10 -0.90 L15.30 -2.70 L12.60 -3.60 L11.70 -3.60 L9.00 -2.70 L7.20 -0.90 L6.30 1.80" fill="none" stroke="#000" stroke-width="1.75" stroke-linecap="round" stroke-linejoin="round"/>
<path transform="translate(64.70 423.88) rotate(-90.00)" d="M-17.10 0.00 L-0.90 0.00 M16.20 -10.80 L7.20 -10.80 L6.30 -2.70 L7.20 -3.60 L9.90 -4.50 L12.60 -4.50 L15.30 -3.60 L17.10 -1.80 L18.00 0.90 L18.00 2.70 L17.10 5.40 L15.30 7.20 L12.60 8.10 L9.90 8.10 L7.20 7.20 L6.30 6.30 L5.40 4.50" fill="none" stroke="#000" stroke-width="1.75" stroke-linecap="round" stroke-linejoin="round"/>
<path transform="translate(64.70 302.61) rotate(-90.00)" d="M-17.10 0.00 L-0.90 0.00 M14.40 -10.80 L5.40 1.80 L18.90 1.80 M14.40 -10.80 L14.40 8.10" fill="none" stroke="#000" stroke-width="1.75" stroke-linecap="round" stroke-linejoin="round"/>
<path transform="translate(64.70 181.33) rotate(-90.00)" d="M-17.10 0.00 L-0.90 0.00 M7.20 -10.80 L17.10 -10.80 L11.70 -3.60 L14.40 -3.60 L16.20 -2.70 L17.10 -1.80 L18.00 0.90 L18.00 2.70 L17.10 5.40 L15.30 7.20 L12.60 8.10 L9.90 8.10 L7.20 7.20 L6.30 6.30 L5.40 4.50" fill="none" stroke="#000" stroke-width="1.75" stroke-linecap="round" stroke-linejoin="round"/>
<path transform="translate(64.70 60.05) rotate(-90.00)" d="M-17.10 0.00 L-0.90 0.00 M6.30 -6.30 L6.30 -7.20 L7.20 -9.00 L8.10 -9.90 L9.90 -10.80 L13.50 -10.80 L15.30 -9.90 L16.20 -9.00 L17.10 -7.20 L17.10 -5.40 L16.20 -3.60 L14.40 -0.90 L5.40 8.10 L18.00 8.10" fill="none" stroke="#000" stroke-width="1.75" stroke-linecap="round" stroke-linejoin="round"/>
<path transform="translate(150.40 39.60)" d="M5.40 -7.20 L7.20 -8.10 L9.90 -10.80 L9.90 8.10 M26.10 -10.80 L23.40 -9.90 L21.60 -7.20 L20.70 -2.70 L20.70 0.00 L21.60 4.50 L23.40 7.20 L26.10 8.10 L27.90 8.10 L30.60 7.20 L32.40 4.50 L33.30 0.00 L33.30 -2.70 L32.40 -7.20 L30.60 -9.90 L27.90 -10.80 L26.10 -10.80 M44.10 -10.80 L41.40 -9.90 L39.60 -7.20 L38.70 -2.70 L38.70 0.00 L39.60 4.50 L41.40 7.20 L44.10 8.10 L45.90 8.10 L48.60 7.20 L50.40 4.50 L51.30 0.00 L51.30 -2.70 L50.40 -7.20 L48.60 -9.90 L45.90 -10.80 L44.10 -10.80" fill="none" stroke="#000" stroke-width="1.75" stroke-linecap="round" stroke-linejoin="round"/>
<path transform="translate(521.30 39.60)" d="M5.40 -7.20 L7.20 -8.10 L9.90 -10.80 L9.90 8.10 M26.10 -10.80 L23.40 -9.90 L21.60 -7.20 L20.70 -2.70 L20.70 0.00 L21.60 4.50 L23.40 7.20 L26.10 8.10 L27.90 8.10 L30.60 7.20 L32.40 4.50 L33.30 0.00 L33.30 -2.70 L32.40 -7.20 L30.60 -9.90 L27.90 -10.80 L26.10 -10.80" fill="none" stroke="#000" stroke-width="1.75" stroke-linecap="round" stroke-linejoin="round"/>
<path transform="translate(892.80 39.60)" d="M5.40 -7.20 L7.20 -8.10 L9.90 -10.80 L9.90 8.10" fill="none" stroke="#000" stroke-width="1.75" stroke-linecap="round" stroke-linejoin="round"/>
<path transform="translate(390.60 15.40)" d="M15.30 -8.10 L13.50 -9.90 L10.80 -10.80 L7.20 -10.80 L4.50 -9.90 L2.70 -8.10 L2.70 -6.30 L3.60 -4.50 L4.50 -3.60 L6.30 -2.70 L11.70 -0.90 L13.50 0.00 L14.40 0.90 L15.30 2.70 L15.30 5.40 L13.50 7.20 L10.80 8.10 L7.20 8.10 L4.50 7.20 L2.70 5.40 M21.60 -10.80 L21.60 8.10 M21.60 -10.80 L33.30 -10.80 M21.60 -1.80 L28.80 -1.80 M37.80 -10.80 L37.80 8.10 M37.80 -10.80 L45.90 -10.80 L48.60 -9.90 L49.50 -9.00 L50.40 -7.20 L50.40 -5.40 L49.50 -3.60 L48.60 -2.70 L45.90 -1.80 L37.80 -1.80 M44.10 -1.80 L50.40 8.10 M77.40 -14.40 L75.60 -12.60 L73.80 -9.90 L72.00 -6.30 L71.10 -1.80 L71.10 1.80 L72.00 6.30 L73.80 9.90 L75.60 12.60 L77.40 14.40 M83.70 -10.80 L83.70 8.10 M83.70 -10.80 L90.90 8.10 M98.10 -10.80 L90.90 8.10 M98.10 -10.80 L98.10 8.10 M109.69 5.24 L107.69 5.90 L105.70 7.24 L104.36 9.23 L103.70 11.23 L103.70 13.23 L104.36 15.23 L105.70 17.23 L107.69 18.56 L109.69 19.22 L111.69 19.22 L113.69 18.56 L115.69 17.23 L117.02 15.23 L117.68 13.23 L117.68 11.23 L117.02 9.23 L115.69 7.24 L113.69 5.90 L111.69 5.24 L109.69 5.24 M110.36 11.23 L109.69 11.90 L109.69 12.56 L110.36 13.23 L111.02 13.23 L111.69 12.56 L111.69 11.90 L111.02 11.23 L110.36 11.23 M110.36 11.90 L110.36 12.56 L111.02 12.56 L111.02 11.90 L110.36 11.90 M137.68 -14.40 L121.48 14.40 M141.28 -4.50 L146.68 8.10 M152.08 -4.50 L146.68 8.10 L144.88 11.70 L143.08 13.50 L141.28 14.40 L140.38 14.40 M156.58 0.90 L167.38 0.90 L167.38 -0.90 L166.48 -2.70 L165.58 -3.60 L163.78 -4.50 L161.08 -4.50 L159.28 -3.60 L157.48 -1.80 L156.58 0.90 L156.58 2.70 L157.48 5.40 L159.28 7.20 L161.08 8.10 L163.78 8.10 L165.58 7.20 L167.38 5.40 M183.58 -4.50 L183.58 8.10 M183.58 -1.80 L181.78 -3.60 L179.98 -4.50 L177.28 -4.50 L175.48 -3.60 L173.68 -1.80 L172.78 0.90 L172.78 2.70 L173.68 5.40 L175.48 7.20 L177.28 8.10 L179.98 8.10 L181.78 7.20 L183.58 5.40 M190.78 -4.50 L190.78 8.10 M190.78 0.90 L191.68 -1.80 L193.48 -3.60 L195.28 -4.50 L197.98 -4.50 M201.58 -14.40 L203.38 -12.60 L205.18 -9.90 L206.98 -6.30 L207.88 -1.80 L207.88 1.80 L206.98 6.30 L205.18 9.90 L203.38 12.60 L201.58 14.40" fill="none" stroke="#000" stroke-width="1.75" stroke-linecap="round" stroke-linejoin="round"/>
<path transform="translate(450.70 691.30)" d="M3.60 -10.80 L3.60 8.10 M3.60 -10.80 L10.80 8.10 M18.00 -10.80 L10.80 8.10 M18.00 -10.80 L18.00 8.10 M27.59 5.24 L22.27 19.22 M27.59 5.24 L32.92 19.22 M24.26 14.56 L30.92 14.56 M36.25 5.24 L36.25 19.22 M36.25 5.24 L42.25 5.24 L44.24 5.90 L44.91 6.57 L45.58 7.90 L45.58 9.23 L44.91 10.57 L44.24 11.23 L42.25 11.90 M36.25 11.90 L42.25 11.90 L44.24 12.56 L44.91 13.23 L45.58 14.56 L45.58 16.56 L44.91 17.89 L44.24 18.56 L42.25 19.22 L36.25 19.22 M57.47 -14.40 L55.67 -12.60 L53.87 -9.90 L52.07 -6.30 L51.17 -1.80 L51.17 1.80 L52.07 6.30 L53.87 9.90 L55.67 12.60 L57.47 14.40 M63.77 -10.80 L63.77 2.70 L64.67 5.40 L66.47 7.20 L69.17 8.10 L70.97 8.10 L73.67 7.20 L75.47 5.40 L76.37 2.70 L76.37 -10.80 M80.87 -10.80 L88.07 8.10 M95.27 -10.80 L88.07 8.10 M98.87 -14.40 L100.67 -12.60 L102.47 -9.90 L104.27 -6.30 L105.17 -1.80 L105.17 1.80 L104.27 6.30 L102.47 9.90 L100.67 12.60 L98.87 14.40" fill="none" stroke="#000" stroke-width="1.75" stroke-linecap="round" stroke-linejoin="round"/>
<path transform="translate(21.20 459.00) rotate(-90.00)" d="M3.60 -10.80 L3.60 8.10 M14.40 -4.50 L12.60 -3.60 L10.80 -1.80 L9.90 0.90 L9.90 2.70 L10.80 5.40 L12.60 7.20 L14.40 8.10 L17.10 8.10 L18.90 7.20 L20.70 5.40 L21.60 2.70 L21.60 0.90 L20.70 -1.80 L18.90 -3.60 L17.10 -4.50 L14.40 -4.50 M37.80 -4.50 L37.80 9.90 L36.90 12.60 L36.00 13.50 L34.20 14.40 L31.50 14.40 L29.70 13.50 M37.80 -1.80 L36.00 -3.60 L34.20 -4.50 L31.50 -4.50 L29.70 -3.60 L27.90 -1.80 L27.00 0.90 L27.00 2.70 L27.90 5.40 L29.70 7.20 L31.50 8.10 L34.20 8.10 L36.00 7.20 L37.80 5.40 M51.30 -14.40 L49.50 -12.60 L47.70 -9.90 L45.90 -6.30 L45.00 -1.80 L45.00 1.80 L45.90 6.30 L47.70 9.90 L49.50 12.60 L51.30 14.40 M57.60 -10.80 L57.60 8.10 M57.60 -10.80 L70.20 8.10 M70.20 -10.80 L70.20 8.10 M91.80 -14.40 L75.60 14.40 M97.20 -4.50 L97.20 8.10 M97.20 -0.90 L99.90 -3.60 L101.70 -4.50 L104.40 -4.50 L106.20 -3.60 L107.10 -0.90 L107.10 8.10 M107.10 -0.90 L109.80 -3.60 L111.60 -4.50 L114.30 -4.50 L116.10 -3.60 L117.00 -0.90 L117.00 8.10 M134.10 -4.50 L134.10 8.10 M134.10 -1.80 L132.30 -3.60 L130.50 -4.50 L127.80 -4.50 L126.00 -3.60 L124.20 -1.80 L123.30 0.90 L123.30 2.70 L124.20 5.40 L126.00 7.20 L127.80 8.10 L130.50 8.10 L132.30 7.20 L134.10 5.40 M151.20 -4.50 L151.20 9.90 L150.30 12.60 L149.40 13.50 L147.60 14.40 L144.90 14.40 L143.10 13.50 M151.20 -1.80 L149.40 -3.60 L147.60 -4.50 L144.90 -4.50 L143.10 -3.60 L141.30 -1.80 L140.40 0.90 L140.40 2.70 L141.30 5.40 L143.10 7.20 L144.90 8.10 L147.60 8.10 L149.40 7.20 L151.20 5.40 M172.80 -14.40 L156.60 14.40 M178.20 -10.80 L178.20 8.10 M178.20 -10.80 L185.40 8.10 M192.60 -10.80 L185.40 8.10 M192.60 -10.80 L192.60 8.10 M199.80 -4.50 L199.80 14.40 M199.80 -1.80 L201.60 -3.60 L203.40 -4.50 L206.10 -4.50 L207.90 -3.60 L209.70 -1.80 L210.60 0.90 L210.60 2.70 L209.70 5.40 L207.90 7.20 L206.10 8.10 L203.40 8.10 L201.60 7.20 L199.80 5.40 M226.80 -1.80 L225.00 -3.60 L223.20 -4.50 L220.50 -4.50 L218.70 -3.60 L216.90 -1.80 L216.00 0.90 L216.00 2.70 L216.90 5.40 L218.70 7.20 L220.50 8.10 L223.20 8.10 L225.00 7.20 L226.80 5.40 M232.83 -20.59 L240.16 -20.59 L236.16 -15.26 L238.16 -15.26 L239.49 -14.60 L240.16 -13.93 L240.82 -11.93 L240.82 -10.60 L240.16 -8.60 L238.82 -7.27 L236.83 -6.61 L234.83 -6.61 L232.83 -7.27 L232.16 -7.94 L231.50 -9.27 M245.52 -14.40 L247.32 -12.60 L249.12 -9.90 L250.92 -6.30 L251.82 -1.80 L251.82 1.80 L250.92 6.30 L249.12 9.90 L247.32 12.60 L245.52 14.40" fill="none" stroke="#000" stroke-width="1.75" stroke-linecap="round" stroke-linejoin="round"/>
<circle cx="643.00" cy="417.90" r="9.70" fill="#ff0000"/>
<path transform="translate(664.90 415.70)" d="M15.30 -4.50 L14.40 -2.70 L12.60 -0.90 L5.40 4.50 L3.60 6.30 L2.70 8.10 M3.60 -0.90 L4.50 -2.70 L6.30 -4.50 L9.00 -4.50 L12.60 -2.70 M4.50 -2.70 L6.30 -3.60 L9.00 -3.60 L12.60 -2.70 L14.40 -2.70 M3.60 6.30 L5.40 6.30 L9.00 7.20 L11.70 7.20 L13.50 6.30 M5.40 6.30 L9.00 8.10 L11.70 8.10 L13.50 6.30 L14.40 4.50 M21.60 -2.70 L37.80 -2.70 M21.60 2.70 L37.80 2.70 M54.90 -10.80 L45.90 -10.80 L45.00 -2.70 L45.90 -3.60 L48.60 -4.50 L51.30 -4.50 L54.00 -3.60 L55.80 -1.80 L56.70 0.90 L56.70 2.70 L55.80 5.40 L54.00 7.20 L51.30 8.10 L48.60 8.10 L45.90 7.20 L45.00 6.30 L44.10 4.50 M81.00 -10.80 L81.00 8.10 M74.70 -10.80 L87.30 -10.80 M91.80 -10.80 L91.80 8.10 M91.80 -0.90 L94.50 -3.60 L96.30 -4.50 L99.00 -4.50 L100.80 -3.60 L101.70 -0.90 L101.70 8.10 M108.00 -10.80 L108.90 -9.90 L109.80 -10.80 L108.90 -11.70 L108.00 -10.80 M108.90 -4.50 L108.90 8.10 M125.10 -1.80 L124.20 -3.60 L121.50 -4.50 L118.80 -4.50 L116.10 -3.60 L115.20 -1.80 L116.10 0.00 L117.90 0.90 L122.40 1.80 L124.20 2.70 L125.10 4.50 L125.10 5.40 L124.20 7.20 L121.50 8.10 L118.80 8.10 L116.10 7.20 L115.20 5.40 M144.00 -10.80 L148.50 8.10 M153.00 -10.80 L148.50 8.10 M153.00 -10.80 L157.50 8.10 M162.00 -10.80 L157.50 8.10 M171.00 -4.50 L169.20 -3.60 L167.40 -1.80 L166.50 0.90 L166.50 2.70 L167.40 5.40 L169.20 7.20 L171.00 8.10 L173.70 8.10 L175.50 7.20 L177.30 5.40 L178.20 2.70 L178.20 0.90 L177.30 -1.80 L175.50 -3.60 L173.70 -4.50 L171.00 -4.50 M184.50 -4.50 L184.50 8.10 M184.50 0.90 L185.40 -1.80 L187.20 -3.60 L189.00 -4.50 L191.70 -4.50 M196.20 -10.80 L196.20 8.10 M205.20 -4.50 L196.20 4.50 M199.80 0.90 L206.10 8.10" fill="none" stroke="#ff0000" stroke-width="1.75" stroke-linecap="round" stroke-linejoin="round"/>
<circle cx="643.00" cy="451.70" r="7.60" fill="none" stroke="#00ff00" stroke-width="1.55"/>
<path transform="translate(664.90 449.50)" d="M15.30 -4.50 L14.40 -2.70 L12.60 -0.90 L5.40 4.50 L3.60 6.30 L2.70 8.10 M3.60 -0.90 L4.50 -2.70 L6.30 -4.50 L9.00 -4.50 L12.60 -2.70 M4.50 -2.70 L6.30 -3.60 L9.00 -3.60 L12.60 -2.70 L14.40 -2.70 M3.60 6.30 L5.40 6.30 L9.00 7.20 L11.70 7.20 L13.50 6.30 M5.40 6.30 L9.00 8.10 L11.70 8.10 L13.50 6.30 L14.40 4.50 M21.60 -2.70 L37.80 -2.70 M21.60 2.70 L37.80 2.70 M53.10 -10.80 L44.10 1.80 L57.60 1.80 M53.10 -10.80 L53.10 8.10 M77.40 -10.80 L77.40 8.10 M90.00 -10.80 L77.40 1.80 M81.90 -2.70 L90.00 8.10 M96.30 -10.80 L96.30 8.10 M96.30 -10.80 L102.60 -10.80 L105.30 -9.90 L107.10 -8.10 L108.00 -6.30 L108.90 -3.60 L108.90 0.90 L108.00 3.60 L107.10 5.40 L105.30 7.20 L102.60 8.10 L96.30 8.10 M115.20 -10.80 L115.20 8.10 M115.20 -10.80 L126.90 -10.80 M115.20 -1.80 L122.40 -1.80" fill="none" stroke="#00ff00" stroke-width="1.75" stroke-linecap="round" stroke-linejoin="round"/>
<rect x="635.75" y="478.55" width="14.50" height="14.50" fill="none" stroke="#00ff00" stroke-width="1.55" stroke-linejoin="miter"/>
<path transform="translate(664.90 483.60)" d="M15.30 -4.50 L14.40 -2.70 L12.60 -0.90 L5.40 4.50 L3.60 6.30 L2.70 8.10 M3.60 -0.90 L4.50 -2.70 L6.30 -4.50 L9.00 -4.50 L12.60 -2.70 M4.50 -2.70 L6.30 -3.60 L9.00 -3.60 L12.60 -2.70 L14.40 -2.70 M3.60 6.30 L5.40 6.30 L9.00 7.20 L11.70 7.20 L13.50 6.30 M5.40 6.30 L9.00 8.10 L11.70 8.10 L13.50 6.30 L14.40 4.50 M21.60 -2.70 L37.80 -2.70 M21.60 2.70 L37.80 2.70 M53.10 -10.80 L44.10 1.80 L57.60 1.80 M53.10 -10.80 L53.10 8.10 M89.10 -8.10 L87.30 -9.90 L84.60 -10.80 L81.00 -10.80 L78.30 -9.90 L76.50 -8.10 L76.50 -6.30 L77.40 -4.50 L78.30 -3.60 L80.10 -2.70 L85.50 -0.90 L87.30 0.00 L88.20 0.90 L89.10 2.70 L89.10 5.40 L87.30 7.20 L84.60 8.10 L81.00 8.10 L78.30 7.20 L76.50 5.40 M96.30 -10.80 L96.30 4.50 L97.20 7.20 L99.00 8.10 L100.80 8.10 M93.60 -4.50 L99.90 -4.50 M105.30 0.90 L116.10 0.90 L116.10 -0.90 L115.20 -2.70 L114.30 -3.60 L112.50 -4.50 L109.80 -4.50 L108.00 -3.60 L106.20 -1.80 L105.30 0.90 L105.30 2.70 L106.20 5.40 L108.00 7.20 L109.80 8.10 L112.50 8.10 L114.30 7.20 L116.10 5.40 M121.50 -10.80 L122.40 -9.90 L123.30 -10.80 L122.40 -11.70 L121.50 -10.80 M122.40 -4.50 L122.40 8.10 M139.50 -10.80 L139.50 8.10 M139.50 -1.80 L137.70 -3.60 L135.90 -4.50 L133.20 -4.50 L131.40 -3.60 L129.60 -1.80 L128.70 0.90 L128.70 2.70 L129.60 5.40 L131.40 7.20 L133.20 8.10 L135.90 8.10 L137.70 7.20 L139.50 5.40 M145.80 0.90 L156.60 0.90 L156.60 -0.90 L155.70 -2.70 L154.80 -3.60 L153.00 -4.50 L150.30 -4.50 L148.50 -3.60 L146.70 -1.80 L145.80 0.90 L145.80 2.70 L146.70 5.40 L148.50 7.20 L150.30 8.10 L153.00 8.10 L154.80 7.20 L156.60 5.40 M162.90 -10.80 L162.90 8.10" fill="none" stroke="#00ff00" stroke-width="1.75" stroke-linecap="round" stroke-linejoin="round"/>
<circle cx="643.00" cy="519.80" r="7.60" fill="none" stroke="#0000ff" stroke-width="1.55"/>
<path transform="translate(664.90 517.60)" d="M15.30 -4.50 L14.40 -2.70 L12.60 -0.90 L5.40 4.50 L3.60 6.30 L2.70 8.10 M3.60 -0.90 L4.50 -2.70 L6.30 -4.50 L9.00 -4.50 L12.60 -2.70 M4.50 -2.70 L6.30 -3.60 L9.00 -3.60 L12.60 -2.70 L14.40 -2.70 M3.60 6.30 L5.40 6.30 L9.00 7.20 L11.70 7.20 L13.50 6.30 M5.40 6.30 L9.00 8.10 L11.70 8.10 L13.50 6.30 L14.40 4.50 M21.60 -2.70 L37.80 -2.70 M21.60 2.70 L37.80 2.70 M45.90 -10.80 L55.80 -10.80 L50.40 -3.60 L53.10 -3.60 L54.90 -2.70 L55.80 -1.80 L56.70 0.90 L56.70 2.70 L55.80 5.40 L54.00 7.20 L51.30 8.10 L48.60 8.10 L45.90 7.20 L45.00 6.30 L44.10 4.50 M77.40 -10.80 L77.40 8.10 M90.00 -10.80 L77.40 1.80 M81.90 -2.70 L90.00 8.10 M96.30 -10.80 L96.30 8.10 M96.30 -10.80 L102.60 -10.80 L105.30 -9.90 L107.10 -8.10 L108.00 -6.30 L108.90 -3.60 L108.90 0.90 L108.00 3.60 L107.10 5.40 L105.30 7.20 L102.60 8.10 L96.30 8.10 M115.20 -10.80 L115.20 8.10 M115.20 -10.80 L126.90 -10.80 M115.20 -1.80 L122.40 -1.80" fill="none" stroke="#0000ff" stroke-width="1.75" stroke-linecap="round" stroke-linejoin="round"/>
<rect x="635.75" y="546.55" width="14.50" height="14.50" fill="none" stroke="#0000ff" stroke-width="1.55" stroke-linejoin="miter"/>
<path transform="translate(664.90 551.60)" d="M15.30 -4.50 L14.40 -2.70 L12.60 -0.90 L5.40 4.50 L3.60 6.30 L2.70 8.10 M3.60 -0.90 L4.50 -2.70 L6.30 -4.50 L9.00 -4.50 L12.60 -2.70 M4.50 -2.70 L6.30 -3.60 L9.00 -3.60 L12.60 -2.70 L14.40 -2.70 M3.60 6.30 L5.40 6.30 L9.00 7.20 L11.70 7.20 L13.50 6.30 M5.40 6.30 L9.00 8.10 L11.70 8.10 L13.50 6.30 L14.40 4.50 M21.60 -2.70 L37.80 -2.70 M21.60 2.70 L37.80 2.70 M45.90 -10.80 L55.80 -10.80 L50.40 -3.60 L53.10 -3.60 L54.90 -2.70 L55.80 -1.80 L56.70 0.90 L56.70 2.70 L55.80 5.40 L54.00 7.20 L51.30 8.10 L48.60 8.10 L45.90 7.20 L45.00 6.30 L44.10 4.50 M89.10 -8.10 L87.30 -9.90 L84.60 -10.80 L81.00 -10.80 L78.30 -9.90 L76.50 -8.10 L76.50 -6.30 L77.40 -4.50 L78.30 -3.60 L80.10 -2.70 L85.50 -0.90 L87.30 0.00 L88.20 0.90 L89.10 2.70 L89.10 5.40 L87.30 7.20 L84.60 8.10 L81.00 8.10 L78.30 7.20 L76.50 5.40 M96.30 -10.80 L96.30 4.50 L97.20 7.20 L99.00 8.10 L100.80 8.10 M93.60 -4.50 L99.90 -4.50 M105.30 0.90 L116.10 0.90 L116.10 -0.90 L115.20 -2.70 L114.30 -3.60 L112.50 -4.50 L109.80 -4.50 L108.00 -3.60 L106.20 -1.80 L105.30 0.90 L105.30 2.70 L106.20 5.40 L108.00 7.20 L109.80 8.10 L112.50 8.10 L114.30 7.20 L116.10 5.40 M121.50 -10.80 L122.40 -9.90 L123.30 -10.80 L122.40 -11.70 L121.50 -10.80 M122.40 -4.50 L122.40 8.10 M139.50 -10.80 L139.50 8.10 M139.50 -1.80 L137.70 -3.60 L135.90 -4.50 L133.20 -4.50 L131.40 -3.60 L129.60 -1.80 L128.70 0.90 L128.70 2.70 L129.60 5.40 L131.40 7.20 L133.20 8.10 L135.90 8.10 L137.70 7.20 L139.50 5.40 M145.80 0.90 L156.60 0.90 L156.60 -0.90 L155.70 -2.70 L154.80 -3.60 L153.00 -4.50 L150.30 -4.50 L148.50 -3.60 L146.70 -1.80 L145.80 0.90 L145.80 2.70 L146.70 5.40 L148.50 7.20 L150.30 8.10 L153.00 8.10 L154.80 7.20 L156.60 5.40 M162.90 -10.80 L162.90 8.10" fill="none" stroke="#0000ff" stroke-width="1.75" stroke-linecap="round" stroke-linejoin="round"/>
</svg>
</body></html>
